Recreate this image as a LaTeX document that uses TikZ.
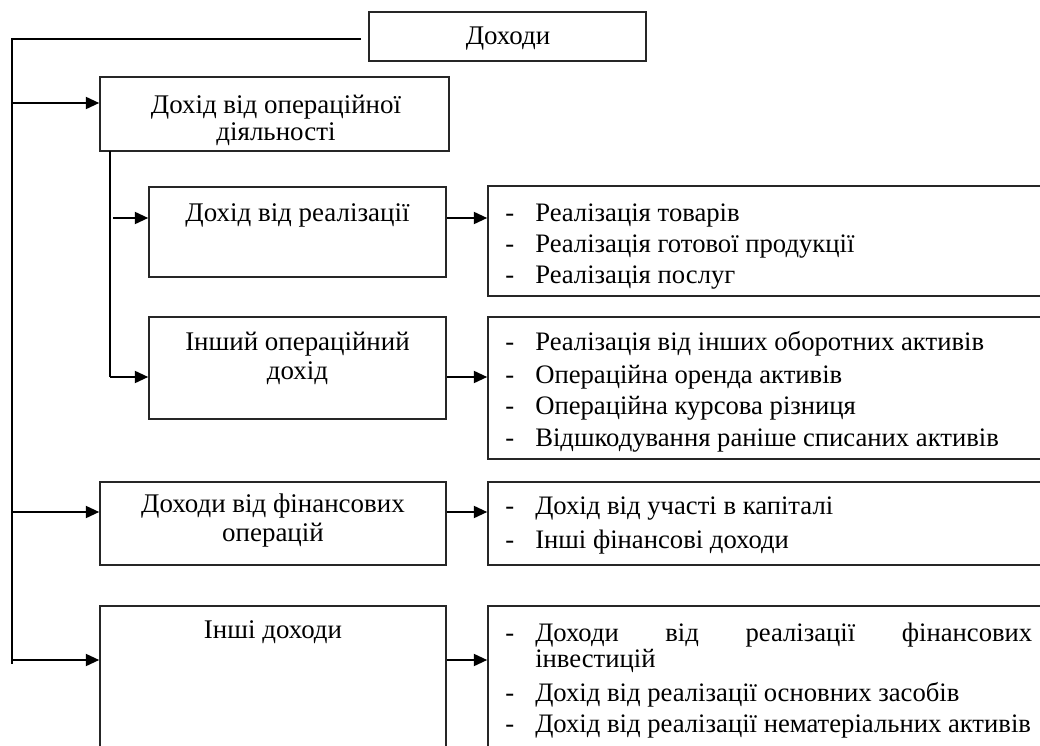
\documentclass[tikz,border=0pt]{standalone}
\usepackage{fontspec}
\setmainfont{Liberation Serif}
\usetikzlibrary{arrows.meta,fit}
\begin{document}
\begin{tikzpicture}[x=0.75pt,y=-0.75pt,
  box/.style={draw=black!85, line width=1.2pt, inner sep=0pt},
  conn/.style={line width=1.4pt, black},
  arr/.style={conn, -{Triangle[length=10pt,width=9pt]}},
  txt/.style={font=\fontsize{20.2}{24}\selectfont, inner sep=0pt, anchor=base},
  itm/.style={font=\fontsize{20}{24}\selectfont, inner sep=0pt, anchor=base west}
]
\path[use as bounding box, clip] (0,0) rectangle (1040,746);

% boxes
\node[box, fit={(369,12) (646,61)}] (doh) {};
\node[box, fit={(100,77) (449,151)}] (op) {};
\node[box, fit={(149,187) (446,277)}] (real) {};
\node[box, fit={(149,317) (446,419)}] (insop) {};
\node[box, fit={(100,482) (446,565)}] (fin) {};
\node[box, fit={(100,606) (446,770)}] (insh) {};
\node[box, fit={(488,186) (1050,296)}] (r1) {};
\node[box, fit={(488,317) (1050,459)}] (r2) {};
\node[box, fit={(488,482) (1050,565)}] (r3) {};
\node[box, fit={(488,606) (1050,770)}] (r4) {};

% box texts
\node[txt] (dohT) at (508,44) {Доходи};
\node[txt] (opT1) at (276,113) {Дохід від операційної};
\node[txt] (opT2) at (276,140) {діяльності};
\node[txt] (realT) at (297.5,221) {Дохід від реалізації};
\node[txt] (insopT1) at (297.5,350) {Інший операційний};
\node[txt] (insopT2) at (297.5,379) {дохід};
\node[txt] (finT1) at (273,512) {Доходи від фінансових};
\node[txt] (finT2) at (273,541) {операцій};
\node[txt] (inshT) at (273,638) {Інші доходи};

% list items
\node[itm] (d1a) at (505,221) {-};
\node[itm] (t1a) at (535,221) {Реалізація товарів};
\node[itm] (d1b) at (505,252) {-};
\node[itm] (t1b) at (535,252) {Реалізація готової продукції};
\node[itm] (d1c) at (505,283) {-};
\node[itm] (t1c) at (535,283) {Реалізація послуг};

\node[itm] (d2a) at (505,350) {-};
\node[itm] (t2a) at (535,350) {Реалізація від інших оборотних активів};
\node[itm] (d2b) at (505,383) {-};
\node[itm] (t2b) at (535,383) {Операційна оренда активів};
\node[itm] (d2c) at (505,414) {-};
\node[itm] (t2c) at (535,414) {Операційна курсова різниця};
\node[itm] (d2d) at (505,446) {-};
\node[itm] (t2d) at (535,446) {Відшкодування раніше списаних активів};

\node[itm] (d3a) at (505,514) {-};
\node[itm] (t3a) at (535,514) {Дохід від участі в капіталі};
\node[itm] (d3b) at (505,548) {-};
\node[itm] (t3b) at (535,548) {Інші фінансові доходи};

\node[itm] (d4a) at (505,641) {-};
\node[itm] (t4a) at (535,641) {\makebox[372.75pt][s]{Доходи\hfill від\hfill реалізації\hfill фінансових}};
\node[itm] (t4b) at (535,667) {інвестицій};
\node[itm] (d4c) at (505,701) {-};
\node[itm] (t4c) at (535,701) {Дохід від реалізації основних засобів};
\node[itm] (d4d) at (505,732) {-};
\node[itm] (t4d) at (535,732) {Дохід від реалізації нематеріальних активів};

% helper coordinates
\coordinate (topEnd) at (361,39);
\coordinate (corner) at (12,39);
\coordinate (mainEnd) at (12,664);
\coordinate (yOp) at (0,103);
\coordinate (yFin) at (0,512);
\coordinate (yInsh) at (0,660);
\coordinate (subTop) at (110,151);
\coordinate (subEnd) at (110,377);
\coordinate (subA) at (113,218);
\coordinate (yReal) at (0,218);
\coordinate (yInsop) at (0,377);

% main trunk
\draw[conn] (topEnd) -- (corner) -- (mainEnd);
\draw[arr] (corner |- yOp) -- (op.west |- yOp);
\draw[arr] (corner |- yFin) -- (fin.west |- yFin);
\draw[arr] (corner |- yInsh) -- (insh.west |- yInsh);

% sub trunk
\draw[conn] (subTop) -- (subEnd);
\draw[arr] (subA) -- (real.west |- subA);
\draw[arr] (subEnd) -- (insop.west |- subEnd);

% right arrows
\draw[arr] (real.east |- yReal) -- (r1.west |- yReal);
\draw[arr] (insop.east |- yInsop) -- (r2.west |- yInsop);
\draw[arr] (fin.east |- yFin) -- (r3.west |- yFin);
\draw[arr] (insh.east |- yInsh) -- (r4.west |- yInsh);
\end{tikzpicture}
\end{document}
